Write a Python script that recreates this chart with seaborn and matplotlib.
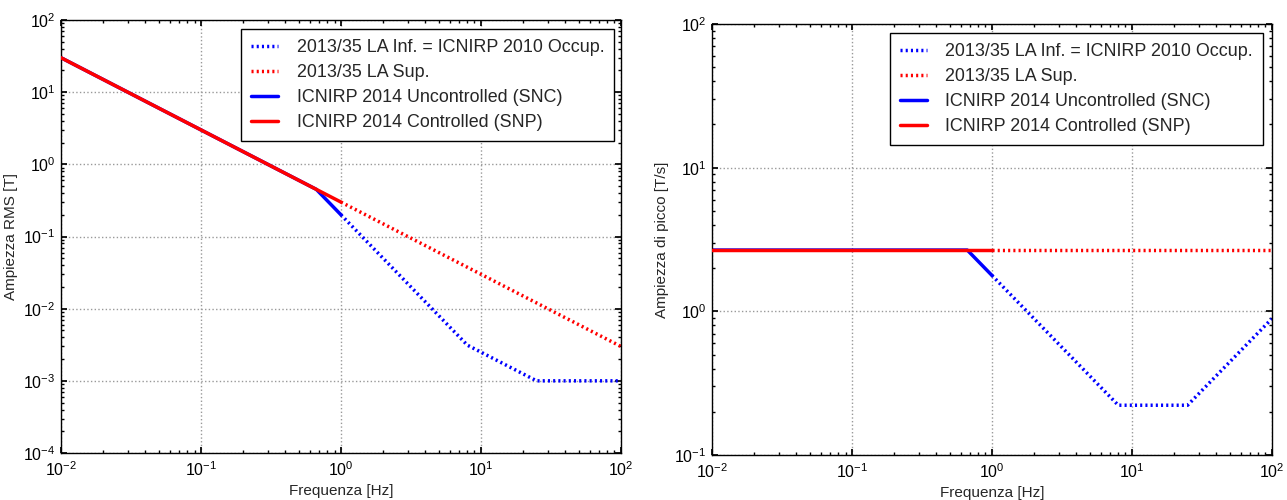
import matplotlib
matplotlib.use("Agg")
import matplotlib.pyplot as plt
import seaborn as sns
import pandas as pd

# Frequency breakpoints [Hz]
f_snp = [0.01, 1.0]
f_snc = [0.01, 0.667, 1.0]
f_inf = [1.0, 8.0, 25.0, 100.0]
f_sup = [1.0, 100.0]

# RMS magnetic flux density limits [T]
b_snp = [30.0, 0.3]
b_snc = [30.0, 0.45, 0.2]
b_inf = [0.2, 0.003125, 0.001, 0.001]
b_sup = [0.3, 0.003]

# Peak dB/dt limits [T/s]
d_snp = [2.67, 2.67]
d_snc = [2.67, 2.67, 1.78]
d_inf = [1.78, 0.222, 0.222, 0.888]
d_sup = [2.67, 2.67]

labels = [
    "2013/35 LA Inf. = ICNIRP 2010 Occup.",
    "2013/35 LA Sup.",
    "ICNIRP 2014 Uncontrolled (SNC)",
    "ICNIRP 2014 Controlled (SNP)",
]

sns.set_theme(style="white")
plt.rcParams["font.family"] = ["Liberation Sans", "DejaVu Sans"]
plt.rcParams.update({
    "xtick.direction": "in",
    "ytick.direction": "in",
    "xtick.top": True,
    "ytick.right": True,
    "xtick.bottom": True,
    "ytick.left": True,
    "xtick.major.size": 4,
    "ytick.major.size": 4,
    "xtick.minor.size": 2,
    "ytick.minor.size": 2,
    "xtick.major.pad": 5,
    "ytick.major.pad": 4,
    "xtick.color": "black",
    "ytick.color": "black",
    "axes.edgecolor": "black",
    "axes.linewidth": 1.0,
    "xtick.labelsize": 11.5,
    "ytick.labelsize": 11.5,
})

fig = plt.figure(figsize=(12.87, 5.0), dpi=100)
ax1 = fig.add_axes([0.0474, 0.094, 0.435, 0.866])
ax2 = fig.add_axes([0.5532, 0.090, 0.435, 0.862])

dot = (0, (0.6, 0.9))


def draw(ax, inf, sup, snc, snp, anchor):
    series = [
        (f_inf, inf, "blue", dot, labels[0], 2),
        (f_sup, sup, "red", dot, labels[1], 2),
        (f_snc, snc, "blue", "-", labels[2], 2),
        (f_snp, snp, "red", "-", labels[3], 3),
    ]
    for fx, vy, col, ls, lab, z in series:
        df = pd.DataFrame({"f": fx, "v": vy})
        sns.lineplot(data=df, x="f", y="v", ax=ax, color=col, linestyle=ls,
                     linewidth=2.5, label=lab, zorder=z, sort=False,
                     estimator=None)
    ax.set_xscale("log")
    ax.set_yscale("log")
    ax.set_xlim(1e-2, 1e2)
    ax.grid(True, which="major", color="#999999", linestyle=":", linewidth=1.0)
    ax.set_xlabel("Frequenza [Hz]", fontsize=11)
    handles, labs = ax.get_legend_handles_labels()
    leg = ax.legend(handles, labs, loc="upper right", bbox_to_anchor=anchor,
                    fontsize=12.9, frameon=True, fancybox=False,
                    framealpha=1, edgecolor="black", handlelength=1.5,
                    handletextpad=1.05, borderpad=0.55, borderaxespad=0,
                    labelspacing=0.45)
    leg.get_frame().set_linewidth(1.0)


draw(ax1, b_inf, b_sup, b_snc, b_snp, (0.9886, 0.979))
ax1.set_ylim(1e-4, 1e2)
ax1.set_ylabel("Ampiezza RMS [T]", fontsize=11)

draw(ax2, d_inf, d_sup, d_snc, d_snp, (0.984, 0.979))
ax2.set_ylim(1e-1, 1e2)
ax2.set_ylabel("Ampiezza di picco [T/s]", fontsize=11)

fig.savefig("out.png", dpi=100)
